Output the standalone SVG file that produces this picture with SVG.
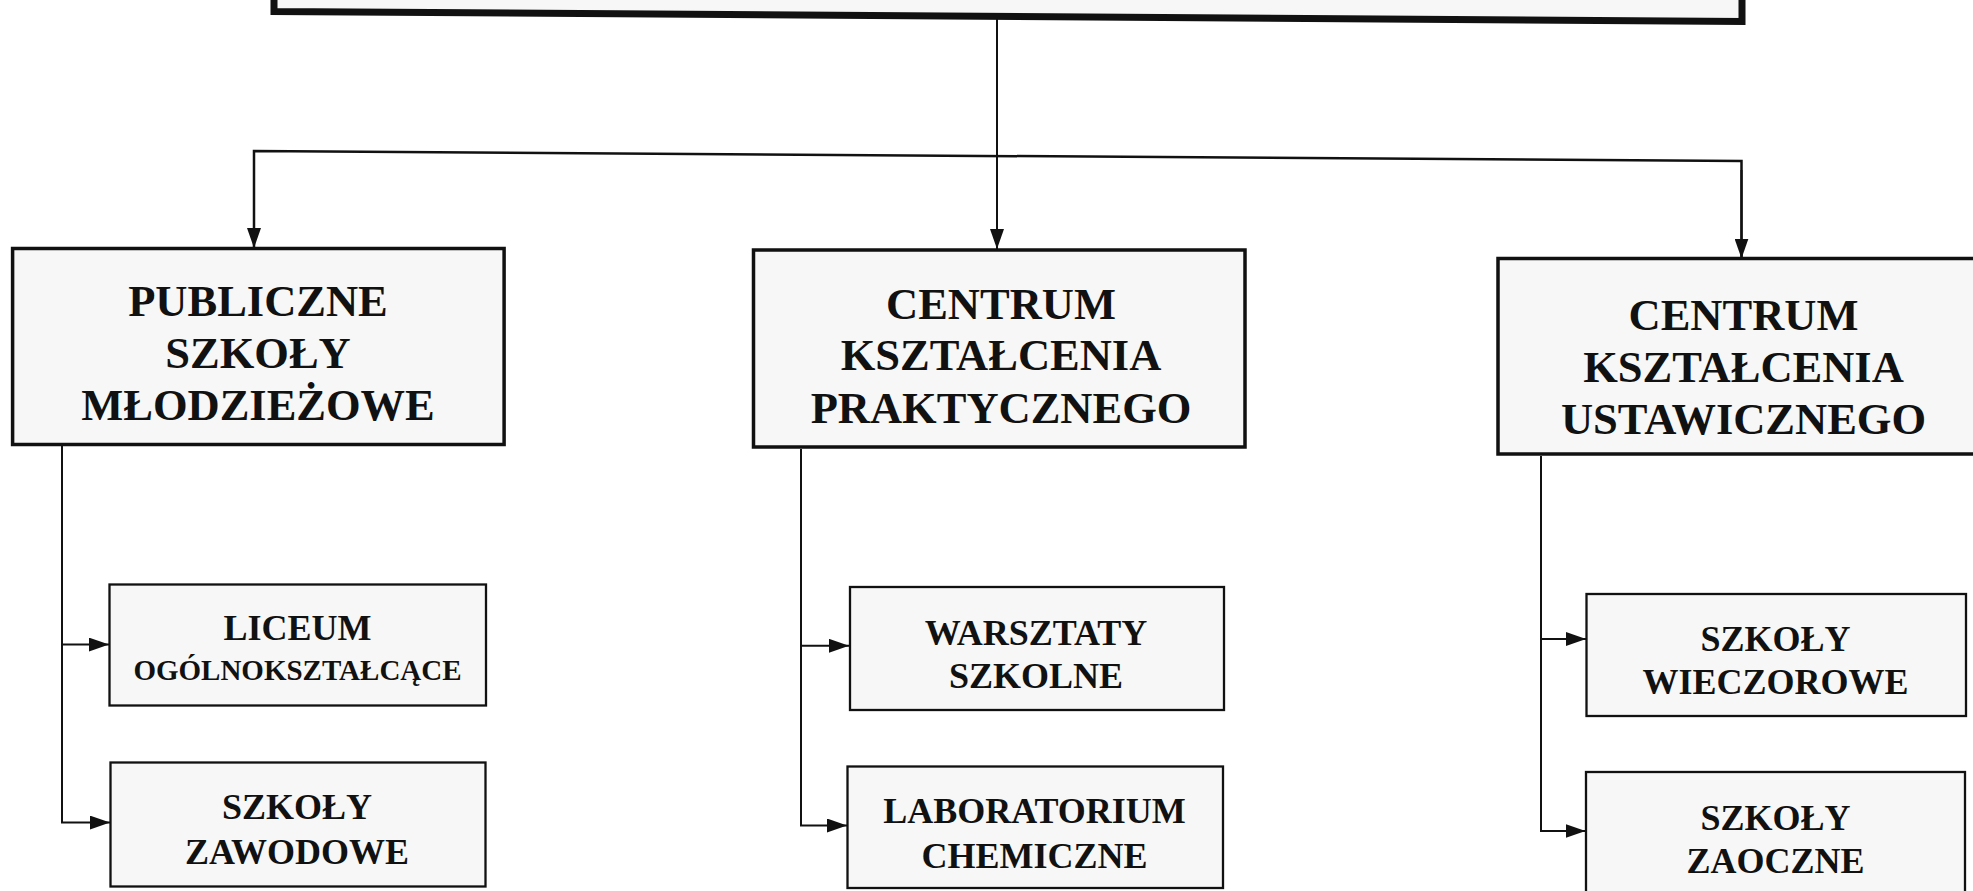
<svg xmlns="http://www.w3.org/2000/svg" width="1973" height="891" viewBox="0 0 1973 891">
<style>
  .big { fill: #f7f7f7; stroke: #111; stroke-width: 3.5; }
  .top { fill: #f7f7f7; stroke: #111; stroke-width: 7; }
  .small { fill: #f7f7f7; stroke: #111; stroke-width: 2.3; }
  .t1 { font-family: "Liberation Serif", "Times New Roman", serif; font-weight: bold; font-size: 44.5px; fill: #111; text-anchor: middle; }
  .t2 { font-family: "Liberation Serif", "Times New Roman", serif; font-weight: bold; font-size: 36px; fill: #111; text-anchor: middle; }
  .t3 { font-family: "Liberation Serif", "Times New Roman", serif; font-weight: bold; font-size: 29px; fill: #111; text-anchor: middle; }
  .con { fill: none; stroke: #111; stroke-width: 2; }
  .bus { fill: none; stroke: #111; stroke-width: 2.5; }
</style>
<defs>
  <marker id="arr" viewBox="0 0 20 14" markerUnits="userSpaceOnUse" markerWidth="20" markerHeight="14" refX="20" refY="7" orient="auto">
    <path d="M0,0 L20,7 L0,14 Z" fill="#111"/>
  </marker>
</defs>
<rect x="0" y="0" width="1973" height="891" fill="#ffffff"/>

<g id="top-node">
  <path class="top" d="M274,-20 V11.5 L1742,21.5 V-20 Z"/>
</g>

<g id="connectors">
  <line class="con" x1="997" y1="16" x2="997" y2="249" marker-end="url(#arr)"/>
  <path class="bus" d="M254,248 V151 L1741.5,161 V258.5"/>
  <line class="con" x1="254" y1="160" x2="254" y2="248" marker-end="url(#arr)"/>
  <line class="con" x1="1741.5" y1="170" x2="1741.5" y2="258.5" marker-end="url(#arr)"/>

  <path class="con" d="M62,446 V822.6"/>
  <line class="con" x1="61" y1="644.6" x2="109" y2="644.6" marker-end="url(#arr)"/>
  <line class="con" x1="61" y1="822.6" x2="110" y2="822.6" marker-end="url(#arr)"/>

  <path class="con" d="M801,449 V825.5"/>
  <line class="con" x1="800" y1="645.8" x2="849" y2="645.8" marker-end="url(#arr)"/>
  <line class="con" x1="800" y1="825.5" x2="847" y2="825.5" marker-end="url(#arr)"/>

  <path class="con" d="M1541,456 V831"/>
  <line class="con" x1="1540" y1="639" x2="1586" y2="639" marker-end="url(#arr)"/>
  <line class="con" x1="1540" y1="831" x2="1585.5" y2="831" marker-end="url(#arr)"/>
</g>

<g id="publiczne">
  <rect class="big" x="12.6" y="248.5" width="491.5" height="196"/>
  <text class="t1" x="258" y="316">PUBLICZNE</text>
  <text class="t1" x="258" y="368">SZKOŁY</text>
  <text class="t1" x="258" y="419.5">MŁODZIEŻOWE</text>
</g>

<g id="ckp">
  <rect class="big" x="753.5" y="250" width="491.5" height="197"/>
  <text class="t1" x="1001" y="318.5">CENTRUM</text>
  <text class="t1" x="1001" y="370">KSZTAŁCENIA</text>
  <text class="t1" x="1001" y="423">PRAKTYCZNEGO</text>
</g>

<g id="cku">
  <rect class="big" x="1498" y="258.5" width="500" height="195.5"/>
  <text class="t1" x="1743.5" y="330">CENTRUM</text>
  <text class="t1" x="1743.5" y="382">KSZTAŁCENIA</text>
  <text class="t1" x="1743.5" y="434">USTAWICZNEGO</text>
</g>

<g id="liceum">
  <rect class="small" x="109.5" y="584.5" width="376.5" height="121"/>
  <text class="t2" x="297.5" y="640.4">LICEUM</text>
  <text class="t3" x="297.5" y="679.5">OGÓLNOKSZTAŁCĄCE</text>
</g>

<g id="zawodowe">
  <rect class="small" x="110.5" y="762.5" width="375" height="124"/>
  <text class="t2" x="297" y="819">SZKOŁY</text>
  <text class="t2" x="297" y="863.5">ZAWODOWE</text>
</g>

<g id="warsztaty">
  <rect class="small" x="850" y="587" width="374" height="123"/>
  <text class="t2" x="1036" y="644.6">WARSZTATY</text>
  <text class="t2" x="1036" y="688">SZKOLNE</text>
</g>

<g id="laboratorium">
  <rect class="small" x="847.5" y="766.5" width="375.5" height="121.5"/>
  <text class="t2" x="1034.5" y="823.4">LABORATORIUM</text>
  <text class="t2" x="1034.5" y="867.6">CHEMICZNE</text>
</g>

<g id="wieczorowe">
  <rect class="small" x="1586.5" y="594" width="379.5" height="122"/>
  <text class="t2" x="1775.5" y="651">SZKOŁY</text>
  <text class="t2" x="1775.5" y="694">WIECZOROWE</text>
</g>

<g id="zaoczne">
  <rect class="small" x="1586" y="772" width="379" height="130"/>
  <text class="t2" x="1775.5" y="829.7">SZKOŁY</text>
  <text class="t2" x="1775.5" y="873">ZAOCZNE</text>
</g>
</svg>
